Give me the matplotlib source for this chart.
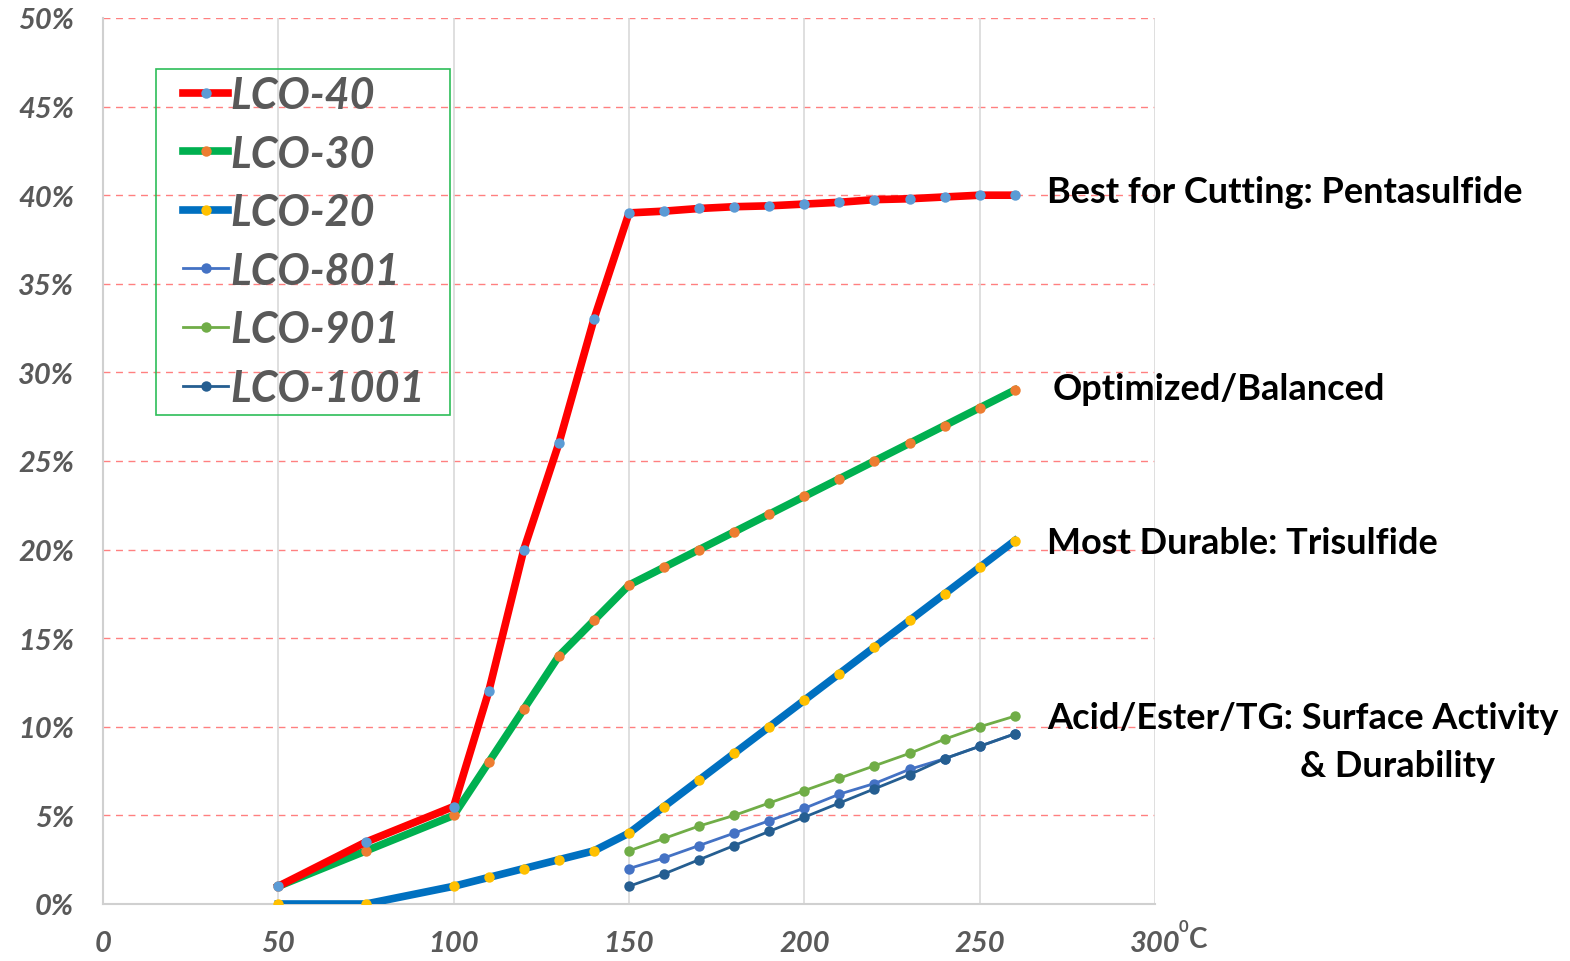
import matplotlib.pyplot as plt
from matplotlib.patches import Rectangle
from matplotlib.ticker import FuncFormatter

plt.rcParams['font.family'] = ['Lato', 'DejaVu Sans']

# temperature (C) and wear values (%)
temp_full = [50, 75, 100, 110, 120, 130, 140, 150, 160, 170, 180, 190, 200, 210, 220, 230, 240, 250, 260]
lco40 = [1.0, 3.5, 5.5, 12, 20, 26, 33, 39, 39.1, 39.25, 39.35, 39.4, 39.5, 39.6, 39.75, 39.8, 39.9, 40.0, 40.0]
lco30 = [1.0, 3.0, 5.0, 8, 11, 14, 16, 18, 19, 20, 21, 22, 23, 24, 25, 26, 27, 28, 29]
lco20 = [0.0, 0.0, 1.0, 1.5, 2.0, 2.5, 3.0, 4.0, 5.5, 7.0, 8.5, 10.0, 11.5, 13.0, 14.5, 16.0, 17.5, 19.0, 20.5]

temp_hi = [150, 160, 170, 180, 190, 200, 210, 220, 230, 240, 250, 260]
lco801 = [2.0, 2.6, 3.3, 4.0, 4.7, 5.4, 6.2, 6.8, 7.6, 8.2, 8.9, 9.6]
lco901 = [3.0, 3.7, 4.4, 5.0, 5.7, 6.4, 7.1, 7.8, 8.5, 9.3, 10.0, 10.6]
lco1001 = [1.0, 1.7, 2.5, 3.3, 4.1, 4.9, 5.7, 6.5, 7.3, 8.2, 8.9, 9.6]

notes = [
    (40.2, "Best for Cutting: Pentasulfide", 1047),
    (29.1, "Optimized/Balanced", 1053),
    (20.4, "Most Durable: Trisulfide", 1047),
    (10.5, "Acid/Ester/TG: Surface Activity", 1047),
    (7.8, "& Durability", 1300),
]

W, H = 1570, 962
fig = plt.figure(figsize=(W / 100, H / 100), dpi=100)
ax = fig.add_axes([103 / W, 57 / H, 1052 / W, 886 / H])

thick = dict(lw=5.5, marker='o', ms=7.5, mew=0)
thin = dict(lw=2, marker='o', ms=7.5, mew=0)
ax.plot(temp_full, lco40, color='#FF0000', mfc='#5B9BD5', label='LCO-40', zorder=5, **thick)
ax.plot(temp_full, lco30, color='#00B050', mfc='#ED7D31', label='LCO-30', zorder=4, **thick)
ax.plot(temp_full, lco20, color='#0070C0', mfc='#FFC000', label='LCO-20', zorder=4, **thick)
ax.plot(temp_hi, lco801, color='#4472C4', label='LCO-801', zorder=4, **thin)
ax.plot(temp_hi, lco901, color='#70AD47', label='LCO-901', zorder=4, **thin)
ax.plot(temp_hi, lco1001, color='#255E91', label='LCO-1001', zorder=4, **thin)

ax.set_xlim(0, 300)
ax.set_ylim(0, 50)
ax.set_xticks(range(0, 301, 50))
ax.set_yticks(range(0, 51, 5))
ax.yaxis.set_major_formatter(FuncFormatter(lambda v, p: f"{v:.0f}%"))

for v in range(5, 51, 5):
    ax.axhline(v, color='#FF8080', lw=1, ls=(0, (5, 4)), zorder=1)
for v in range(50, 301, 50):
    ax.axvline(v, color='#D9D9D9', lw=1.2, zorder=1)

for s in ['top', 'right']:
    ax.spines[s].set_visible(False)
for s in ['left', 'bottom']:
    ax.spines[s].set_color('#D0D0D0')
    ax.spines[s].set_linewidth(1.5)

ax.tick_params(length=0, labelsize=21, colors='#595959')
ax.tick_params(axis='y', pad=21)
ax.tick_params(axis='x', pad=19)
for lab in ax.get_xticklabels() + ax.get_yticklabels():
    lab.set_fontweight('bold')
    lab.set_fontstyle('italic')

# legend without its own frame, frame drawn separately
leg = ax.legend(loc='upper left', bbox_to_anchor=(183 / W, 1 - 76 / H),
                bbox_transform=fig.transFigure, frameon=False, borderpad=0,
                handlelength=1.05, handletextpad=0.05, labelspacing=0.43,
                borderaxespad=0, prop=dict(size=31, style='italic', weight='bold'))
for t in leg.get_texts():
    t.set_color('#595959')
fig.patches.append(Rectangle((156 / W, 1 - 416 / H), 294 / W, 346 / H,
                             transform=fig.transFigure, fill=False,
                             edgecolor='#2EBD59', lw=1.2, zorder=3))

for yv, txt, px in notes:
    ax.annotate(txt, xy=(px / W, 0), xycoords=('figure fraction', 'data'),
                xytext=(0, yv), textcoords=('offset points', 'data'),
                fontsize=26, fontweight='bold', color='black', va='center', ha='left',
                annotation_clip=False)

fig.text(1179 / W, 1 - 927 / H, "0", fontsize=12, color='#595959',
         fontweight='bold', va='center', ha='left')
fig.text(1189 / W, 1 - 940 / H, "C", fontsize=20, color='#595959',
         fontweight='bold', va='center', ha='left')

fig.savefig('out.png', dpi=100)
